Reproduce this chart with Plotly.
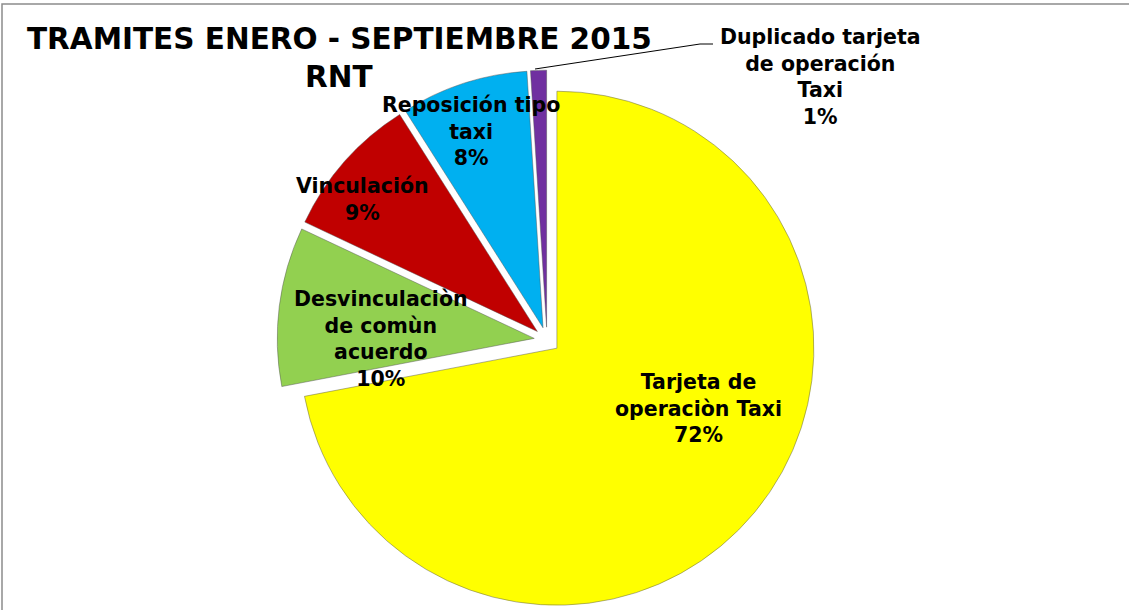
import plotly.graph_objects as go

# ---- data ----
categories = [
    "Tarjeta de operaciòn Taxi",
    "Desvinculaciòn de comùn acuerdo",
    "Vinculación",
    "Reposición tipo taxi",
    "Duplicado tarjeta de operación Taxi",
]
label_lines = [
    "Tarjeta de<br>operaciòn Taxi",
    "Desvinculaciòn<br>de comùn<br>acuerdo",
    "Vinculación",
    "Reposición tipo<br>taxi",
    "Duplicado tarjeta<br>de operación<br>Taxi",
]
values = [72, 10, 9, 8, 1]
title_lines = ["TRAMITES ENERO - SEPTIEMBRE 2015", "RNT"]

# ---- styles ----
colors = ["#FFFF00", "#92D050", "#C00000", "#00B0F0", "#7030A0"]
W, H = 1129, 610
label_pos = [(698, 408), (381, 339), (362, 200), (471, 131), (820, 77)]


def px(x):
    return x / W


def py(y):
    return 1 - y / H


total = sum(values)
pct = [round(v * 100 / total) for v in values]

# pie geometry (center and radius in pixels)
cx, cy, r, pull = 547, 340, 257, 0.05
half = r * (1 + pull)

fig = go.Figure()
fig.add_trace(go.Pie(
    labels=categories,
    values=values,
    sort=False,
    direction="clockwise",
    rotation=0,
    pull=[pull] * len(values),
    marker=dict(colors=colors, line=dict(color="rgba(80,80,80,0.45)", width=1)),
    textinfo="none",
    hoverinfo="label+percent",
    showlegend=False,
    domain=dict(x=[px(cx - half), px(cx + half)], y=[max(0, py(cy + half)), py(cy - half)]),
))

label_font = dict(family="DejaVu Sans", size=20.5, color="black")
for txt, p, (x, y) in zip(label_lines, pct, label_pos):
    fig.add_annotation(
        x=px(x), y=py(y), xref="paper", yref="paper",
        text=f"<b>{txt}<br>{p}%</b>", showarrow=False,
        xanchor="center", yanchor="middle", align="center",
        font=label_font,
    )

title_font = dict(family="DejaVu Sans", size=29.5, color="black")
for t, (x, y) in zip(title_lines, [(339, 39), (339, 77)]):
    fig.add_annotation(
        x=px(x), y=py(y), xref="paper", yref="paper",
        text=f"<b>{t}</b>", showarrow=False,
        xanchor="center", yanchor="middle", font=title_font,
    )

# leader line for the small slice label
fig.add_shape(
    type="path", xref="paper", yref="paper",
    path=f"M {px(535)} {py(69)} L {px(700)} {py(44)} L {px(713)} {py(44)}",
    line=dict(color="black", width=1),
)

# chart frame
fig.add_shape(
    type="rect", xref="paper", yref="paper",
    x0=px(2), x1=1.02, y0=-0.02, y1=py(4),
    line=dict(color="#8C8C8C", width=1.5), fillcolor="rgba(0,0,0,0)",
)

fig.update_layout(
    width=W, height=H,
    margin=dict(l=0, r=0, t=0, b=0),
    paper_bgcolor="white",
    plot_bgcolor="white",
)

fig.write_html(
    "out.html",
    config={"displayModeBar": False},
    post_script="document.body.style.margin='0';document.documentElement.style.overflow='hidden';",
)
